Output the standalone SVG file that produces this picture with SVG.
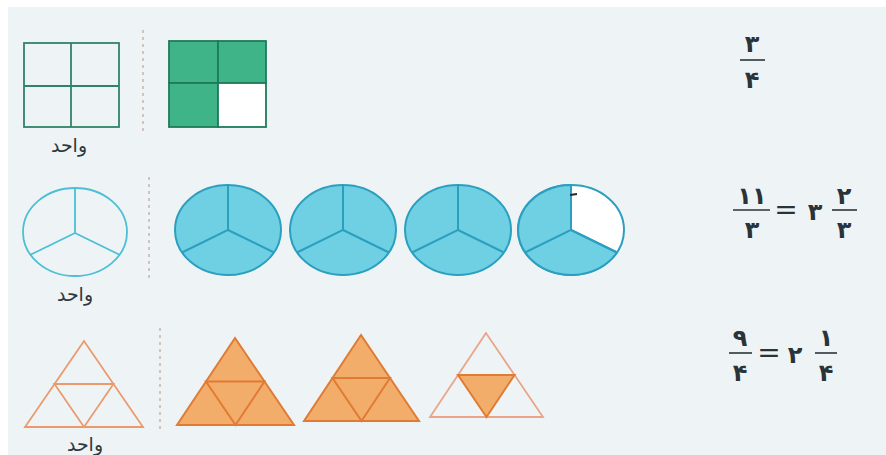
<svg xmlns="http://www.w3.org/2000/svg" width="886" height="455" viewBox="0 0 886 455">
<defs>
<style>
.bg{fill:#eef4f6}
.lbl{font-family:"DejaVu Sans",sans-serif;font-size:19px;fill:#2e3a40;text-anchor:middle}
.num{font-family:"DejaVu Sans",sans-serif;font-size:24px;font-weight:bold;fill:#2a3438;text-anchor:middle}
.eq{font-family:"DejaVu Sans",sans-serif;font-size:28px;fill:#2a3438;text-anchor:middle}
.bar{stroke:#2a3438;stroke-width:1.6}
.dash{stroke:#c9b2aa;stroke-width:1.5;stroke-dasharray:3 4;fill:none}
.gO{fill:none;stroke:#2f8466;stroke-width:1.8}
.gF{fill:#3fb489;stroke:#1f7a59;stroke-width:1.8}
.gW{fill:#ffffff;stroke:#1f7a59;stroke-width:1.8}
.bO{fill:none;stroke:#4cbfd6;stroke-width:1.8}
.bF{fill:#6fd0e3;stroke:#2b9fbf;stroke-width:2}
.bL{fill:none;stroke:#2b9fbf;stroke-width:2}
.bW{fill:#ffffff;stroke:#2b9fbf;stroke-width:2}
.oO{fill:none;stroke:#eb9a6e;stroke-width:1.8}
.oF{fill:#f2ad6b;stroke:#e07b34;stroke-width:2}
.oL{fill:none;stroke:#e07b34;stroke-width:2}
.oW{fill:none;stroke:#e8a58a;stroke-width:1.8}
</style>
</defs>
<rect width="886" height="455" fill="#ffffff"/>
<rect class="bg" x="8" y="7" width="878" height="448"/>

<g id="separators">
<line class="dash" x1="143" y1="30" x2="143" y2="135"/>
<line class="dash" x1="149" y1="177" x2="149" y2="280"/>
<line class="dash" x1="160" y1="328" x2="160" y2="430"/>
</g>

<g id="row1-unit">
<rect class="gO" x="24" y="43" width="95" height="84"/>
<line class="gO" x1="71" y1="43" x2="71" y2="127"/>
<line class="gO" x1="24" y1="86" x2="119" y2="86"/>
<text class="lbl" x="69" y="152">واحد</text>
</g>

<g id="row1-shaded">
<rect class="gF" x="169" y="41" width="49" height="42"/>
<rect class="gF" x="218" y="41" width="48" height="42"/>
<rect class="gF" x="169" y="83" width="49" height="44"/>
<rect class="gW" x="218" y="83" width="48" height="44"/>
</g>

<g id="row1-fraction">
<text class="num" x="752" y="52">۳</text>
<line class="bar" x1="740" y1="60" x2="765" y2="60"/>
<text class="num" x="752" y="88">۴</text>
</g>

<g id="row2-unit">
<ellipse class="bO" cx="75" cy="232" rx="52" ry="44"/>
<polyline class="bO" points="75,188 75,233 30,255"/>
<line class="bO" x1="75" y1="233" x2="120" y2="255"/>
<text class="lbl" x="75" y="301">واحد</text>
</g>

<g id="row2-circle1">
<ellipse class="bF" cx="228" cy="230" rx="53" ry="45"/>
<polyline class="bL" points="228,185 228,230 182,252.5"/>
<line class="bL" x1="228" y1="230" x2="274" y2="252.5"/>
</g>
<g id="row2-circle2">
<ellipse class="bF" cx="343" cy="230" rx="53" ry="45"/>
<polyline class="bL" points="343,185 343,230 297,252.5"/>
<line class="bL" x1="343" y1="230" x2="389" y2="252.5"/>
</g>
<g id="row2-circle3">
<ellipse class="bF" cx="458" cy="230" rx="53" ry="45"/>
<polyline class="bL" points="458,185 458,230 412,252.5"/>
<line class="bL" x1="458" y1="230" x2="504" y2="252.5"/>
</g>
<g id="row2-circle4">
<ellipse class="bW" cx="571" cy="230" rx="53" ry="45"/>
<path class="bF" d="M571,230 L571,185 A53,45 0 1 0 617,252.5 Z"/>
<polyline class="bL" points="571,185 571,230 525,252.5"/>
<line class="bL" x1="571" y1="230" x2="617" y2="252.5"/>
<line x1="570" y1="195" x2="577" y2="194" stroke="#1e2a30" stroke-width="2"/>
</g>

<g id="row2-fraction">
<text class="num" x="752" y="204">۱۱</text>
<line class="bar" x1="733" y1="210" x2="770" y2="210"/>
<text class="num" x="752" y="238">۳</text>
<text class="eq" x="786" y="219">=</text>
<text class="num" x="815" y="220">۳</text>
<text class="num" x="844" y="204">۲</text>
<line class="bar" x1="832" y1="210" x2="857" y2="210"/>
<text class="num" x="844" y="238">۳</text>
</g>

<g id="row3-unit">
<polygon class="oO" points="84,341 25,427 143,427"/>
<polygon class="oO" points="54.5,384 113.5,384 84,427"/>
<text class="lbl" x="85" y="451">واحد</text>
</g>

<g id="row3-triangle1">
<polygon class="oF" points="235,338 177,425 294,425"/>
<polygon class="oL" points="206,381.5 264.5,381.5 235.5,425"/>
</g>
<g id="row3-triangle2">
<polygon class="oF" points="361,335 304,421 419,421"/>
<polygon class="oL" points="332.5,378 390,378 361.5,421"/>
</g>
<g id="row3-triangle3">
<polygon class="oW" points="486,333 430,417 543,417"/>
<polygon class="oF" points="458,375 514.5,375 486.5,417"/>
</g>

<g id="row3-fraction">
<text class="num" x="740" y="346">۹</text>
<line class="bar" x1="729" y1="353" x2="752" y2="353"/>
<text class="num" x="740" y="381">۴</text>
<text class="eq" x="769" y="362">=</text>
<text class="num" x="795" y="363">۲</text>
<text class="num" x="826" y="346">۱</text>
<line class="bar" x1="815" y1="353" x2="837" y2="353"/>
<text class="num" x="826" y="381">۴</text>
</g>
</svg>
